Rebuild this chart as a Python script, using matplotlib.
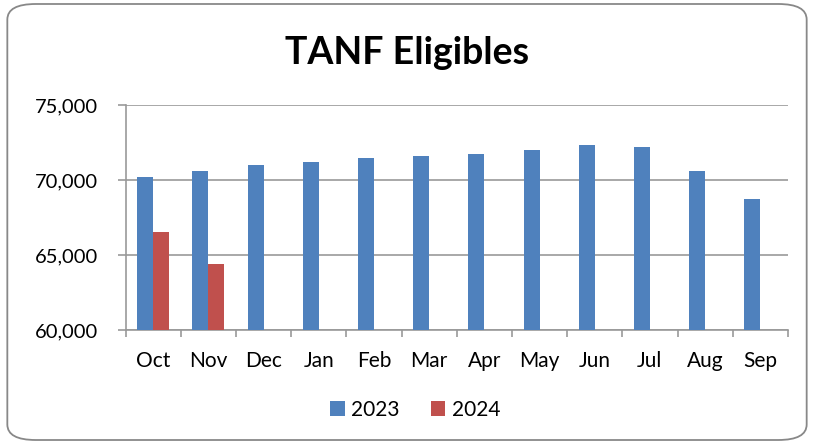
import matplotlib
matplotlib.use('Agg')
import matplotlib.pyplot as plt
from matplotlib.patches import FancyBboxPatch
from matplotlib.ticker import FuncFormatter, FixedLocator
import numpy as np

months = ['Oct', 'Nov', 'Dec', 'Jan', 'Feb', 'Mar', 'Apr', 'May', 'Jun', 'Jul', 'Aug', 'Sep']
eligibles_2023 = [70180, 70600, 70980, 71220, 71470, 71620, 71710, 71980, 72330, 72180, 70600, 68710]
eligibles_2024 = [66510, 64420]

blue = '#4f81bd'
red = '#c0504d'
grid_col = '#999999'

plt.rcParams['font.family'] = ['Lato', 'DejaVu Sans']

fig = plt.figure(figsize=(8.14, 4.44), dpi=100)
fig.patch.set_facecolor('white')

# rounded chart border
border = FancyBboxPatch((0.009, 0.009), 0.982, 0.982, boxstyle='round,pad=0,rounding_size=0.035',
                        transform=fig.transFigure, facecolor='none', edgecolor='#888888', linewidth=1.3)
fig.patches.append(border)

ax = fig.add_axes([125.5 / 814, 1 - 330 / 444, (788 - 125.5) / 814, 225 / 444])

x = np.arange(len(months))
w = 0.29
ax.bar(x[:len(eligibles_2023)] - w / 2, eligibles_2023, width=w, color=blue, label='2023', zorder=3)
ax.bar(x[:len(eligibles_2024)] + w / 2, eligibles_2024, width=w, color=red, label='2024', zorder=3)

ax.set_ylim(60000, 75000)
ax.set_xlim(-0.5, len(months) - 0.5)
ax.set_yticks([60000, 65000, 70000, 75000])
ax.yaxis.set_major_formatter(FuncFormatter(lambda v, p: f'{int(v):,}'))
ax.grid(axis='y', color=grid_col, linewidth=1.2, zorder=0)

ax.set_xticks(x)
ax.set_xticklabels(months)
ax.xaxis.set_minor_locator(FixedLocator(np.arange(-0.5, len(months), 1.0)))
ax.tick_params(axis='x', which='major', length=0, pad=15, labelsize=15)
ax.tick_params(axis='x', which='minor', length=5, width=1.2, color=grid_col)
ax.tick_params(axis='y', length=6, width=1.2, color=grid_col, labelsize=14.5, pad=14)

for s in ['top', 'right']:
    ax.spines[s].set_visible(False)
for s in ['left', 'bottom']:
    ax.spines[s].set_color(grid_col)
    ax.spines[s].set_linewidth(1.2)

fig.text(0.5, 1 - 53 / 444, 'TANF Eligibles', ha='center', va='center', fontsize=27, fontweight='bold')

fig.legend(loc='center', bbox_to_anchor=(0.51, 1 - 410 / 444), ncol=2, frameon=False,
           fontsize=15, handlelength=0.7, handleheight=0.7, handletextpad=0.3, columnspacing=1.5)

fig.savefig('out.png', dpi=100, facecolor='white')
